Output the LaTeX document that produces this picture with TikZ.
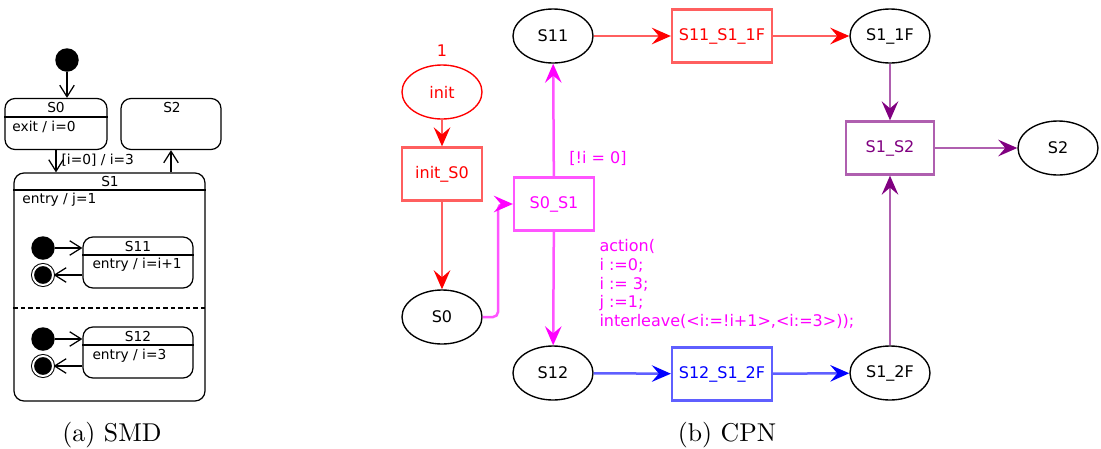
\documentclass[tikz,border=0pt]{standalone}
\usepackage{fontspec}
\newfontfamily\cpnfont{DejaVu Sans}
\usetikzlibrary{arrows.meta,shapes.geometric}
\definecolor{cpnred}{RGB}{255,0,0}
\definecolor{cpnredline}{RGB}{255,95,95}
\definecolor{cpnmag}{RGB}{255,0,255}
\definecolor{cpnmagline}{RGB}{255,85,255}
\definecolor{cpnblue}{RGB}{0,0,255}
\definecolor{cpnblueline}{RGB}{95,95,255}
\definecolor{cpnpurple}{RGB}{128,0,128}
\definecolor{cpnpurpleline}{RGB}{175,95,175}
\begin{document}
\begin{tikzpicture}[x=0.4pt, y=-0.4pt,
    smdstate/.style={draw, rounded corners=4pt, line width=0.5pt, inner sep=0},
    smdtext/.style={font=\cpnfont\fontsize{5.5pt}{6pt}\selectfont, inner sep=0},
    smdinit/.style={circle, fill=black, inner sep=0, minimum size=9.4pt},
    smdfinal/.style={circle, draw, fill=black, inner sep=0, minimum size=8pt,
      line width=0.4pt, double, double distance=0.8pt},
    smdarc/.style={line width=0.5pt, -{Straight Barb[length=4.6pt,width=5.8pt]}},
    cpnplace/.style={ellipse, draw, line width=0.55pt, inner sep=0,
      minimum width=32pt, minimum height=21.6pt, font=\cpnfont\fontsize{6.4pt}{7.5pt}\selectfont},
    cpntrans/.style={rectangle, draw, line width=0.9pt, inner sep=0,
      minimum width=32pt, minimum height=21.2pt, font=\cpnfont\fontsize{6.4pt}{7.5pt}\selectfont},
    cpntext/.style={inner sep=0, font=\cpnfont\fontsize{6.4pt}{7.5pt}\selectfont},
    redarc/.style={draw=cpnredline, line width=1pt, -{Stealth[length=7.6pt,width=6.6pt,inset=2.8pt,color=cpnred]}},
    magarc/.style={draw=cpnmagline, line width=1pt, -{Stealth[length=7.6pt,width=6.6pt,inset=2.8pt,color=cpnmag]}},
    bluearc/.style={draw=cpnblueline, line width=1pt, -{Stealth[length=7.6pt,width=6.6pt,inset=2.8pt,color=cpnblue]}},
    purparc/.style={draw=cpnpurpleline, line width=1pt, -{Stealth[length=7.6pt,width=6.6pt,inset=2.8pt,color=cpnpurple]}},
    caption/.style={inner sep=0, font=\fontsize{10.3pt}{12pt}\selectfont}]
  \useasboundingbox (0,0) rectangle (1101,448);

  % (a) SMD
  \node[smdinit] (ini) at (67,60) {};
  \node[smdstate, minimum width=40.8pt, minimum height=20.4pt] (s0) at (56,124) {};
  \node[smdstate, minimum width=40pt, minimum height=20.4pt] (s2) at (171,124) {};
  \node[smdstate, minimum width=76.4pt, minimum height=91.2pt] (s1) at (109.5,287) {};
  \node[smdstate, minimum width=44pt, minimum height=20.4pt] (s11) at (138,262.5) {};
  \node[smdstate, minimum width=44pt, minimum height=20.4pt] (s12) at (138,352.5) {};
  \node[smdinit] (ini11) at (43,248) {};
  \node[smdfinal] (fin11) at (43,275) {};
  \node[smdinit] (ini12) at (43,339) {};
  \node[smdfinal] (fin12) at (43,366) {};
  % compartments
  \draw[line width=0.45pt] (s0.west |- 0,117) -- (s0.east |- 0,117);
  \draw[line width=0.45pt] (s1.west |- 0,190) -- (s1.east |- 0,190);
  \draw[line width=0.45pt] (s11.west |- 0,255) -- (s11.east |- 0,255);
  \draw[line width=0.45pt] (s12.west |- 0,345) -- (s12.east |- 0,345);
  \draw[line width=0.5pt, dash pattern=on 1.8pt off 1.2pt] (s1.west |- 0,308) -- (s1.east |- 0,308);
  % texts
  \node[smdtext, anchor=base] at (56,112) {S0};
  \node[smdtext, anchor=base west] at (12,131) {exit / i=0};
  \node[smdtext, anchor=base] at (172,112) {S2};
  \node[smdtext, anchor=base] at (110,186) {S1};
  \node[smdtext, anchor=base west] at (22,203) {entry / j=1};
  \node[smdtext, anchor=base] at (138,251) {S11};
  \node[smdtext, anchor=base west] at (92,268) {entry / i=i+1};
  \node[smdtext, anchor=base] at (138,341) {S12};
  \node[smdtext, anchor=base west] at (92,359) {entry / i=3};
  % transitions
  \draw[smdarc] (ini) -- (ini |- s0.north);
  \draw[smdarc] (s0.south) -- (s0.south |- s1.north)
    node[smdtext, anchor=west, pos=0.45, xshift=2pt] {[i=0] / i=3};
  \draw[smdarc] (s1.north -| s2.south) -- (s2.south);
  \draw[smdarc] (ini11) -- (ini11 -| s11.west);
  \draw[smdarc] (s11.west |- fin11) -- (fin11);
  \draw[smdarc] (ini12) -- (ini12 -| s12.west);
  \draw[smdarc] (s12.west |- fin12) -- (fin12);
  \node[caption, anchor=base] (capa) at (112,441) {(a) SMD};

  % (b) CPN
  \node[cpnplace, draw=cpnred, text=cpnred] (init) at (442,92) {init};
  \node[cpntext, text=cpnred] (tok) at (442,51) {1};
  \node[cpntrans, draw=cpnredline, text=cpnred] (initS0) at (442,174) {init\_S0};
  \node[cpnplace] (S0) at (442,317) {S0};
  \node[cpntrans, draw=cpnmagline, text=cpnmag] (S0S1) at (554,204) {S0\_S1};
  \node[cpnplace] (S11) at (553,36) {S11};
  \node[cpnplace] (S12) at (553,373) {S12};
  \node[cpntrans, draw=cpnredline, text=cpnred, minimum width=40pt] (S11S1F) at (722,36) {S11\_S1\_1F};
  \node[cpntrans, draw=cpnblueline, text=cpnblue, minimum width=40pt] (S12S1F) at (722,374) {S12\_S1\_2F};
  \node[cpnplace] (S1F1) at (890,36) {S1\_1F};
  \node[cpnplace] (S1F2) at (890,373) {S1\_2F};
  \node[cpntrans, draw=cpnpurpleline, text=cpnpurple, minimum width=35.2pt] (S1S2) at (890,148) {S1\_S2};
  \node[cpnplace] (S2) at (1058,148) {S2};
  \coordinate (bend) at (498,204);
  % arcs
  \draw[redarc] (init) -- (initS0);
  \draw[redarc] (initS0) -- (S0);
  \draw[magarc, rounded corners=2pt] (S0.east) -| (bend) -- (S0S1.west);
  \draw[magarc] (S0S1) -- (S11);
  \draw[magarc] (S0S1) -- (S12);
  \draw[redarc] (S11) -- (S11S1F);
  \draw[redarc] (S11S1F) -- (S1F1);
  \draw[bluearc] (S12) -- (S12S1F);
  \draw[bluearc] (S12S1F) -- (S1F2);
  \draw[purparc] (S1F1) -- (S1S2);
  \draw[purparc] (S1F2) -- (S1S2);
  \draw[purparc] (S1S2) -- (S2);
  % inscriptions
  \node[cpntext, text=cpnmag] (guard) at (598,158) {[!i = 0]};
  \node[cpntext, text=cpnmag, anchor=north west, align=left] (action) at (599,239)
    {action(\\i :=0;\\i := 3;\\j :=1;\\interleave(<i:=!i+1>,<i:=3>));};
  \node[caption, anchor=base] (capb) at (727,441) {(b) CPN};
\end{tikzpicture}
\end{document}
